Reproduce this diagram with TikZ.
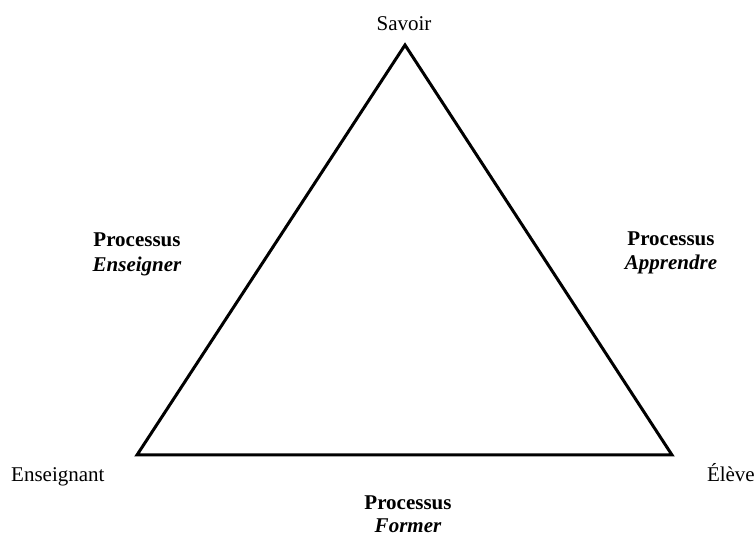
\documentclass[tikz,border=0pt]{standalone}
\usepackage{fontspec}
\setmainfont{Liberation Serif}
\begin{document}
\begin{tikzpicture}[x=1pt,y=1pt,
  lbl/.style={inner sep=0pt,font=\fontsize{21}{25}\selectfont},
  proc/.style={lbl,font=\fontsize{21}{25}\selectfont\bfseries},
  procname/.style={lbl,font=\fontsize{21}{25}\selectfont\bfseries\itshape},
  edge/.style={line width=3pt,line join=miter}]
\useasboundingbox[fill=white] (0,0) rectangle (756,538);
\coordinate (A) at (405,493);
\coordinate (B) at (137,83);
\coordinate (C) at (672,83);
\draw[edge] (A) -- (B) -- (C) -- cycle;
\node[lbl,anchor=base] (savoir) at (404,507) {Savoir};
\node[lbl,anchor=base west] (ens) at (11,56) {Enseignant};
\node[lbl,anchor=base east] (eleve) at (755,56) {Élève};
\node[proc,anchor=base] (pl) at (137,291) {Processus};
\node[procname,anchor=base] (pln) at (137,266) {Enseigner};
\node[proc,anchor=base] (pr) at (671,292) {Processus};
\node[procname,anchor=base] (prn) at (671,268) {Apprendre};
\node[proc,anchor=base] (pb) at (408,28) {Processus};
\node[procname,anchor=base] (pbn) at (408,5) {Former};
\end{tikzpicture}
\end{document}
